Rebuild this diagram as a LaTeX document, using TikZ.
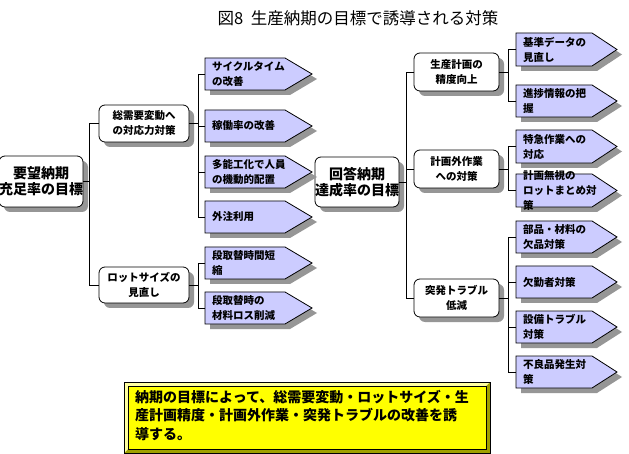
\documentclass[tikz,border=0pt]{standalone}
\usepackage{fontspec}
\setmainfont{Noto Sans CJK JP}
\usetikzlibrary{shadows}
\definecolor{leafc}{RGB}{204,204,255}
\definecolor{shadc}{RGB}{150,150,150}
\definecolor{yel}{RGB}{255,255,0}
\definecolor{yelhi}{RGB}{255,255,160}
\definecolor{yeldk}{RGB}{160,160,0}
\tikzset{
 shad/.style={drop shadow={shadow xshift=5pt,shadow yshift=-5pt,fill=shadc,opacity=1}},
 rbox/.style={draw,fill=white,rounded corners=6pt,line width=0.8pt,align=center,inner sep=0pt,outer sep=0pt,shad},
 midbox/.style={rbox,font=\bfseries\fontsize{10.5}{15}\selectfont},
 rootbox/.style={rbox,font=\bfseries\fontsize{14}{16}\selectfont},
 leafbody/.style={draw,fill=leafc,line width=0.8pt,shad},
 leaftext/.style={anchor=west,align=left,inner xsep=7pt,inner ysep=0pt,outer sep=0pt,font=\bfseries\fontsize{10.5}{15}\selectfont},
 conn/.style={line width=0.8pt},
}
\newcommand\leafnode[7]{%
 \draw[leafbody] (#2,#3) -- ++(#5,0) -- ({#2+#5+#6},{(#3+#4)/2}) -- ({#2+#5},#4) -- (#2,#4) -- cycle;
 \node[leaftext] (#1) at (#2,{(#3+#4)/2}) {#7};}
\begin{document}
\begin{tikzpicture}[x=1pt,y=-1pt]
\useasboundingbox (0,0) rectangle (629,454);
\fill[white] (0,0) rectangle (629,454);
\node[font=\fontsize{16.5}{16.5}\selectfont] (title) at (358,18) {図8\ \ 生産納期の目標で誘導される対策};
% roots
\node[rootbox,minimum width=80pt,minimum height=51pt] (L0) at (41,181.5) {要望納期\\充足率の目標};
\node[rootbox,minimum width=80pt,minimum height=50pt] (R0) at (357,182) {回答納期\\達成率の目標};
% mid boxes
\node[midbox,minimum width=90pt,minimum height=37pt] (L1) at (144,123.5) {総需要変動へ\\の対応力対策};
\node[midbox,minimum width=90pt,minimum height=36pt] (L2) at (144,285) {ロットサイズの\\見直し};
\node[midbox,minimum width=85pt,minimum height=38pt] (R1) at (456.5,72) {生産計画の\\精度向上};
\node[midbox,minimum width=85pt,minimum height=38pt] (R2) at (456.5,169) {計画外作業\\への対策};
\node[midbox,minimum width=85pt,minimum height=38pt] (R3) at (456.5,298) {突発トラブル\\低減};
% left leaves
\leafnode{LA}{205}{58}{90}{80}{27}{サイクルタイム\\の改善}
\leafnode{LB}{205}{110}{142}{80}{27}{稼働率の改善}
\leafnode{LC}{205}{156}{188}{80}{27}{多能工化で人員\\の機動的配置}
\leafnode{LD}{205}{201}{233}{80}{27}{外注利用}
\leafnode{LE}{205}{247}{279}{80}{27}{段取替時間短\\縮}
\leafnode{LF}{205}{292}{324}{80}{27}{段取替時の\\材料ロス削減}
% right leaves
\leafnode{RA}{516}{33}{66}{76}{25}{基準データの\\見直し}
\leafnode{RB}{516}{85}{117}{76}{25}{進捗情報の把\\握}
\leafnode{RC}{516}{130}{163}{76}{25}{特急作業への\\対応}
\leafnode{RD}{516}{174}{207}{76}{25}{計画無視の\\ロットまとめ対\\策}
\leafnode{RE}{516}{221}{253}{76}{25}{部品・材料の\\欠品対策}
\leafnode{RF}{516}{266}{298}{76}{25}{欠勤者対策}
\leafnode{RG}{516}{311}{343}{76}{25}{設備トラブル\\対策}
\leafnode{RH}{516}{356}{388}{76}{25}{不良品発生対\\策}
% connectors left
\coordinate (lt) at (89,0);
\coordinate (lg) at (198,0);
\draw[conn] (L0.east) -- (L0.east -| lt);
\draw[conn] (L1.west) -| (lt |- L2.west) -- (L2.west);
\draw[conn] (LA.west) -| (lg |- LD.west) -- (LD.west);
\draw[conn] (LB.west) -- (LB.west -| lg);
\draw[conn] (LC.west) -- (LC.west -| lg);
\draw[conn] (L1.east) -- (L1.east -| lg);
\draw[conn] (LE.west) -| (lg |- LF.west) -- (LF.west);
\draw[conn] (L2.east) -- (L2.east -| lg);
% connectors right
\coordinate (rt) at (406,0);
\coordinate (rg) at (508,0);
\draw[conn] (R0.east) -- (R0.east -| rt);
\draw[conn] (R1.west) -| (rt |- R3.west) -- (R3.west);
\draw[conn] (R2.west) -- (R2.west -| rt);
\draw[conn] (RA.west) -| (rg |- RB.west) -- (RB.west);
\draw[conn] (R1.east) -- (R1.east -| rg);
\draw[conn] (RC.west) -| (rg |- RD.west) -- (RD.west);
\draw[conn] (R2.east) -- (R2.east -| rg);
\draw[conn] (RE.west) -| (rg |- RH.west) -- (RH.west);
\draw[conn] (RF.west) -- (RF.west -| rg);
\draw[conn] (RG.west) -- (RG.west -| rg);
\draw[conn] (R3.east) -- (R3.east -| rg);
% bottom note
\fill[yeldk] (124,382) rectangle (490,453);
\fill[yelhi] (124,382) -- (490,382) -- (486,386) -- (128,386) -- (128,449) -- (124,453) -- cycle;
\draw[line width=0.8pt] (124,382) rectangle (490,453);
\filldraw[fill=yel,draw=black,line width=0.6pt] (128,386) rectangle (486,449);
\node[anchor=north west,align=left,inner sep=0pt,font=\bfseries\fontsize{14}{18.5}\selectfont] (note) at (135,390) {納期の目標によって、総需要変動・ロットサイズ・生\\産計画精度・計画外作業・突発トラブルの改善を誘\\導する。};
\end{tikzpicture}
\end{document}
